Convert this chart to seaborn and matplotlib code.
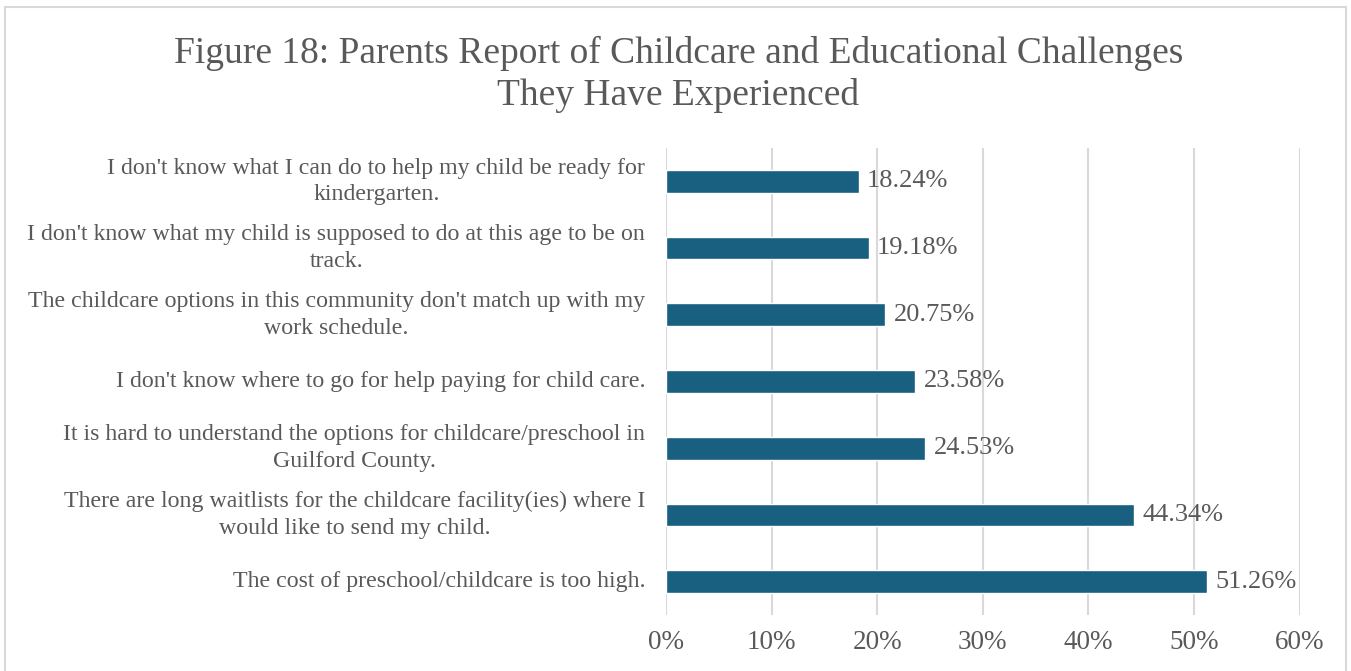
import matplotlib
matplotlib.use("Agg")
import matplotlib.pyplot as plt
import matplotlib.patches as mpatches
import seaborn as sns
import pandas as pd

challenges = [
    "I don't know what I can do to help my child be ready for\nkindergarten.",
    "I don't know what my child is supposed to do at this age to be on\ntrack.",
    "The childcare options in this community don't match up with my\nwork schedule.",
    "I don't know where to go for help paying for child care.",
    "It is hard to understand the options for childcare/preschool in\nGuilford County.",
    "There are long waitlists for the childcare facility(ies) where I\nwould like to send my child.",
    "The cost of preschool/childcare is too high.",
]
percent = [18.24, 19.18, 20.75, 23.58, 24.53, 44.34, 51.26]
tick_values = [0, 10, 20, 30, 40, 50, 60]
tick_labels = ["0%", "10%", "20%", "30%", "40%", "50%", "60%"]

df = pd.DataFrame({"challenge": challenges, "percent": percent})

sns.set_theme(style="white")
plt.rcParams["font.family"] = ["Liberation Serif", "DejaVu Serif"]
text_color = "#595959"

fig = plt.figure(figsize=(13.51, 6.71), dpi=100)
ax = fig.add_axes([0.493, 0.0835, 0.469, 0.696])

sns.barplot(data=df, x="percent", y="challenge", orient="h",
            color="#185f80", width=0.34, saturation=1, ax=ax, zorder=3)

ax.set_xlim(0, 60)
ax.set_xticks(tick_values)
ax.set_xticklabels(tick_labels)
ax.set_ylim(6.5, -0.5)
ax.xaxis.grid(True, color="#d9d9d9", linewidth=1.5, zorder=0)
ax.set_axisbelow(True)
for s in ax.spines.values():
    s.set_visible(False)
ax.set_xlabel("")
ax.set_ylabel("")
ax.tick_params(axis="x", length=0, pad=11, labelsize=19.5, labelcolor=text_color)
ax.tick_params(axis="y", length=0, pad=15, labelsize=17.2, labelcolor=text_color)
for lbl in ax.get_yticklabels():
    lbl.set_multialignment("center")
    lbl.set_linespacing(1.35)
    lbl.set_verticalalignment("center")

ax.bar_label(ax.containers[0], labels=[f"{v:.2f}%" for v in percent],
             padding=6, fontsize=19, color=text_color)

fig.suptitle("Figure 18: Parents Report of Childcare and Educational Challenges\nThey Have Experienced",
             x=0.502, y=0.947, fontsize=27, color=text_color, linespacing=1.28)

fig.patches.append(mpatches.Rectangle((0.0037, -0.01), 0.9926, 0.9996,
                                      transform=fig.transFigure, fill=False,
                                      edgecolor="#d9d9d9", linewidth=1.5))

fig.savefig("out.png", dpi=100, facecolor="white")
